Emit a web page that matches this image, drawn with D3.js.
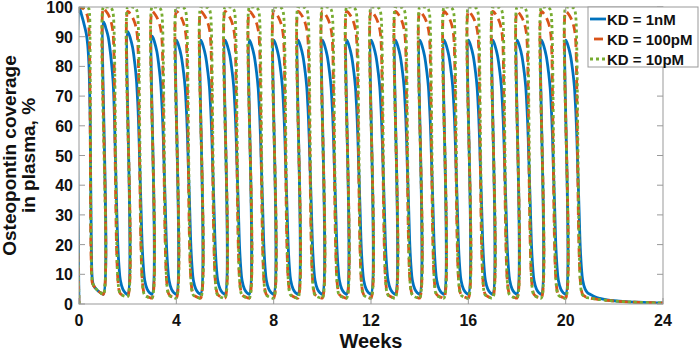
<!DOCTYPE html>
<html>
<head>
<meta charset="utf-8">
<title>Osteopontin coverage</title>
<style>
  body { margin: 0; background: #fff; }
  svg { display: block; font-family: "Liberation Sans", Arial, Helvetica, sans-serif; font-weight: bold; }
  .tick-label { font-size: 16px; fill: #111; }
  .axis-title { font-size: 19px; fill: #111; }
  .x-title { font-size: 20px; }
  .legend-text { font-size: 15px; fill: #111; }
</style>
<script src="https://d3js.org/d3.v7.min.js"></script>
</head>
<body>
<script>
// ---- data ----
var xTicks = [0, 4, 8, 12, 16, 20, 24];
var yTicks = [0, 10, 20, 30, 40, 50, 60, 70, 80, 90, 100];
var doseWeeks = [0, 1, 2, 3, 4, 5, 6, 7, 8, 9, 10, 11, 12, 13, 14, 15, 16, 17, 18, 19, 20];
// time inside one week after a dose
var cycleOffsets = [0, 0.05, 0.1, 0.2, 0.3, 0.36, 0.4, 0.43, 0.46, 0.5, 0.55, 0.6, 0.65, 0.7, 0.8, 0.9, 1.0];

// KD = 1nM : coverage (%) at cycleOffsets, one row per cycle shape
var blueCycles = [
  [100, 99, 97.5, 94.5, 91, 87, 82, 75, 62, 25, 8, 6.2, 5.6, 5.1, 4.3, 3.7, 3.3],
  [95, 94.3, 93, 90, 84, 79, 75, 70, 62, 48, 32, 19, 12, 8, 5, 3.8, 3.2],
  [91.7, 91, 89.8, 86.5, 80.5, 75.5, 70, 65, 58, 46, 32, 19, 12, 8, 5, 3.8, 3.3],
  [90.2, 89.5, 88.3, 85, 79, 74, 68.5, 63.5, 57, 45.5, 32, 19, 12, 8, 5, 3.8, 3.3],
  [88.8, 88.1, 86.9, 83.6, 77.8, 73, 67.5, 62.5, 56, 45, 32, 19, 12, 8, 5, 3.8, 3.3]
];
var blueShapeOfWeek = [0, 1, 2, 3, 4, 4, 4, 4, 4, 4, 4, 4, 4, 4, 4, 4, 4, 4, 4, 4, 4];

// KD = 100pM
var orangeCycles = [
  [100, 100, 99.8, 99.3, 98, 96.5, 94, 88, 60, 15, 7, 6.2, 5.6, 5.1, 4.3, 3.7, 3.3],
  [99.5, 99.2, 98.7, 97.5, 95.5, 93.5, 91, 86, 70, 40, 17, 8, 4.5, 3.5, 2.9, 2.6, 2.5],
  [98.5, 98.3, 97.8, 96.5, 94.5, 92.5, 90, 85, 70, 42, 18, 8, 4.5, 3.2, 2.5, 2.2, 2.0]
];
var orangeShapeOfWeek = [0, 1, 2, 2, 2, 2, 2, 2, 2, 2, 2, 2, 2, 2, 2, 2, 2, 2, 2, 2, 2];

// KD = 10pM
var greenCycles = [
  [100, 100, 100, 100, 100, 99.8, 99.5, 98, 80, 20, 7.5, 6.3, 5.6, 5.1, 4.3, 3.7, 3.3],
  [100, 100, 100, 100, 99.8, 99.2, 98, 95, 85, 55, 22, 8, 4.5, 3.4, 2.9, 2.6, 2.5],
  [100, 100, 100, 100, 99.8, 99.2, 98, 95, 85, 55, 22, 8, 4, 3, 2.4, 2.1, 2.0]
];
var greenShapeOfWeek = [0, 1, 2, 2, 2, 2, 2, 2, 2, 2, 2, 2, 2, 2, 2, 2, 2, 2, 2, 2, 2];

// washout after the last dose
var tailWeeks = [21.2, 21.4, 21.7, 22, 22.5, 23, 23.5, 24];
var blueTail = [2.4, 1.9, 1.4, 1.1, 0.8, 0.6, 0.45, 0.35];
var orangeTail = [1.7, 1.45, 1.2, 1.0, 0.75, 0.55, 0.42, 0.33];
var greenTail = [1.75, 1.5, 1.25, 1.0, 0.75, 0.55, 0.42, 0.33];

var seriesNames = ["KD = 1nM", "KD = 100pM", "KD = 10pM"];
var seriesColors = ["#0072BD", "#D95319", "#77AC30"];
var seriesDash = [null, "9,5", "3,3"];

// ---- layout ----
var width = 699, height = 352;
var mLeft = 79, mRight = 663, mTop = 7, mBottom = 304;

var svg = d3.select("body").append("svg")
  .attr("width", width)
  .attr("height", height);

var x = d3.scaleLinear().domain([0, 24]).range([mLeft, mRight]);
var y = d3.scaleLinear().domain([0, 100]).range([mBottom, mTop]);

function buildPoints(cycles, shapeOfWeek, tail) {
  var pts = [[0, 0]];
  doseWeeks.forEach(function(w, i) {
    var row = cycles[shapeOfWeek[i]];
    cycleOffsets.forEach(function(o, j) {
      pts.push([w + o, row[j]]);
    });
  });
  tailWeeks.forEach(function(t, i) { pts.push([t, tail[i]]); });
  return pts;
}

var series = [
  buildPoints(blueCycles, blueShapeOfWeek, blueTail),
  buildPoints(orangeCycles, orangeShapeOfWeek, orangeTail),
  buildPoints(greenCycles, greenShapeOfWeek, greenTail)
];

svg.append("clipPath").attr("id", "plotclip")
  .append("rect")
  .attr("x", mLeft).attr("y", mTop)
  .attr("width", mRight - mLeft).attr("height", mBottom - mTop);

var line = d3.line()
  .x(function(d) { return x(d[0]); })
  .y(function(d) { return y(d[1]); })
  .curve(d3.curveCatmullRom.alpha(0.5));

var plot = svg.append("g").attr("clip-path", "url(#plotclip)");
plot.selectAll("path.series")
  .data(series)
  .enter().append("path")
  .attr("class", "series")
  .attr("d", line)
  .attr("fill", "none")
  .attr("stroke", function(d, i) { return seriesColors[i]; })
  .attr("stroke-width", 2.8)
  .attr("stroke-dasharray", function(d, i) { return seriesDash[i]; });

// ---- axes box ----
var axisColor = "#999";
svg.append("rect")
  .attr("x", mLeft).attr("y", mTop)
  .attr("width", mRight - mLeft).attr("height", mBottom - mTop)
  .attr("fill", "none").attr("stroke", axisColor).attr("stroke-width", 1);

var tickLen = 6;
var xt = svg.append("g");
xTicks.forEach(function(t) {
  xt.append("line").attr("x1", x(t)).attr("x2", x(t)).attr("y1", mBottom).attr("y2", mBottom - tickLen).attr("stroke", axisColor);
  xt.append("line").attr("x1", x(t)).attr("x2", x(t)).attr("y1", mTop).attr("y2", mTop + tickLen).attr("stroke", axisColor);
  xt.append("text").attr("class", "tick-label")
    .attr("x", x(t)).attr("y", mBottom + 22)
    .attr("text-anchor", "middle").text(t);
});
var yt = svg.append("g");
yTicks.forEach(function(t) {
  yt.append("line").attr("x1", mLeft).attr("x2", mLeft + tickLen).attr("y1", y(t)).attr("y2", y(t)).attr("stroke", axisColor);
  yt.append("line").attr("x1", mRight).attr("x2", mRight - tickLen).attr("y1", y(t)).attr("y2", y(t)).attr("stroke", axisColor);
  yt.append("text").attr("class", "tick-label")
    .attr("x", mLeft - 6).attr("y", y(t) + 6)
    .attr("text-anchor", "end").text(t);
});

svg.append("text").attr("class", "axis-title x-title")
  .attr("x", (mLeft + mRight) / 2).attr("y", 348)
  .attr("text-anchor", "middle").text("Weeks");

var yl = svg.append("text").attr("class", "axis-title")
  .attr("transform", "translate(16," + ((mTop + mBottom) / 2) + ") rotate(-90)")
  .attr("text-anchor", "middle");
yl.append("tspan").attr("x", 0).attr("y", 0).text("Osteopontin coverage");
yl.append("tspan").attr("x", 0).attr("y", 19).text("in plasma, %");

// ---- legend ----
var lg = svg.append("g").attr("transform", "translate(588,7)");
lg.append("rect").attr("x", 0).attr("y", 0).attr("width", 110).attr("height", 60)
  .attr("fill", "#fff").attr("stroke", axisColor);
var items = lg.selectAll("g.item").data(seriesNames).enter().append("g")
  .attr("class", "item")
  .attr("transform", function(d, i) { return "translate(0," + (12 + i * 20) + ")"; });
items.append("line")
  .attr("x1", 2).attr("x2", 18).attr("y1", 0).attr("y2", 0)
  .attr("stroke", function(d, i) { return seriesColors[i]; })
  .attr("stroke-width", 2.8)
  .attr("stroke-dasharray", function(d, i) { return seriesDash[i]; })
  .attr("stroke-dashoffset", function(d, i) { return i === 1 ? -4 : 0; });
items.append("text").attr("class", "legend-text")
  .attr("x", 19).attr("y", 5.5).text(function(d) { return d; });
</script>
</body>
</html>
